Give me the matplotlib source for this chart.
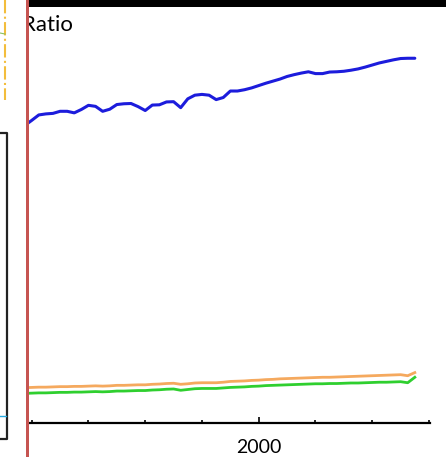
import matplotlib
matplotlib.use('Agg')
import matplotlib.pyplot as plt
from matplotlib.lines import Line2D
from matplotlib.patches import Rectangle
from matplotlib.ticker import MultipleLocator

# quarterly observations
years = [1991.75 + 0.25 * i for i in range(56)]

ratio_total = [
    1.145, 1.165, 1.186, 1.190, 1.192, 1.200, 1.200, 1.194, 1.207, 1.223,
    1.219, 1.200, 1.208, 1.226, 1.229, 1.230, 1.218, 1.203, 1.224, 1.225,
    1.236, 1.237, 1.214, 1.248, 1.262, 1.265, 1.262, 1.245, 1.253, 1.278,
    1.278, 1.283, 1.290, 1.299, 1.308, 1.316, 1.324, 1.334, 1.341, 1.347,
    1.352, 1.345, 1.345, 1.351, 1.352, 1.354, 1.358, 1.363, 1.370, 1.378,
    1.386, 1.392, 1.398, 1.403, 1.404, 1.404,
]
ratio_upper = [
    0.137, 0.138, 0.139, 0.139, 0.140, 0.141, 0.141, 0.142, 0.142, 0.143,
    0.144, 0.143, 0.144, 0.146, 0.146, 0.147, 0.148, 0.148, 0.150, 0.151,
    0.153, 0.154, 0.150, 0.152, 0.155, 0.156, 0.156, 0.156, 0.158, 0.161,
    0.162, 0.163, 0.165, 0.166, 0.168, 0.169, 0.171, 0.172, 0.173, 0.174,
    0.175, 0.176, 0.177, 0.177, 0.178, 0.179, 0.180, 0.181, 0.182, 0.183,
    0.184, 0.185, 0.186, 0.187, 0.183, 0.195,
]
ratio_lower = [
    0.115, 0.116, 0.117, 0.117, 0.118, 0.119, 0.119, 0.120, 0.120, 0.121,
    0.122, 0.121, 0.122, 0.124, 0.124, 0.125, 0.126, 0.126, 0.128, 0.129,
    0.131, 0.132, 0.127, 0.130, 0.133, 0.134, 0.134, 0.134, 0.136, 0.138,
    0.139, 0.140, 0.142, 0.143, 0.145, 0.146, 0.147, 0.148, 0.149, 0.150,
    0.151, 0.152, 0.152, 0.153, 0.153, 0.154, 0.155, 0.155, 0.156, 0.157,
    0.158, 0.158, 0.159, 0.160, 0.156, 0.177,
]

W, H = 446, 457


def fx(px):
    return px / W


def fy(py):
    return 1 - py / H


plt.rcParams['font.family'] = ['Lato', 'DejaVu Sans']
fig = plt.figure(figsize=(W / 100, H / 100), dpi=100)

ax = fig.add_axes([fx(20), fy(423.3), 410 / W, 416 / H])
ax.plot(years, ratio_total, color='#1c1cdc', lw=2.2,
        solid_capstyle='round', solid_joinstyle='round')
ax.plot(years, ratio_upper, color='#f5a95e', lw=2.0, solid_joinstyle='round')
ax.plot(years, ratio_lower, color='#2fcf2f', lw=2.0, solid_joinstyle='round')

ax.set_xlim(1991.588, 2006.035)
ax.set_ylim(0, 1.6)
for side in ['left', 'right', 'top']:
    ax.spines[side].set_visible(False)
ax.spines['bottom'].set_linewidth(1.6)
ax.set_yticks([])
ax.xaxis.set_major_locator(MultipleLocator(10))
ax.xaxis.set_minor_locator(MultipleLocator(2))
ax.tick_params(axis='x', which='major', direction='in', length=4.5, width=1.2,
               labelsize=14, pad=11)
ax.tick_params(axis='x', which='minor', direction='in', length=2.2, width=1.2)

fig.text(fx(73), fy(25), 'Ratio', ha='right', va='center', fontsize=16, zorder=3)

# neighbouring panel on the left
fig.add_artist(Rectangle((0, 0), fx(25.5), 1, transform=fig.transFigure,
                         facecolor='white', edgecolor='none', zorder=4))
fig.add_artist(Line2D([fx(0), fx(6.5), fx(6.5), fx(0)],
                      [fy(133), fy(133), fy(439), fy(439)],
                      transform=fig.transFigure, color='#222222', lw=1.6, zorder=5))
fig.add_artist(Line2D([fx(4.7), fx(4.7)], [fy(0), fy(100)],
                      transform=fig.transFigure, color='#f3bd3c', lw=1.5,
                      ls='-.', zorder=5))
fig.add_artist(Line2D([fx(0), fx(5)], [fy(33), fy(34)],
                      transform=fig.transFigure, color='#8cc060', lw=0.8, zorder=5))
fig.add_artist(Line2D([fx(0), fx(5.5)], [fy(416), fy(416)],
                      transform=fig.transFigure, color='#29abe2', lw=1.0, zorder=5))

# top bar and divider
fig.add_artist(Rectangle((fx(29), fy(7.3)), 1 - fx(29), 7.3 / H,
                         transform=fig.transFigure, facecolor='black',
                         edgecolor='none', zorder=5))
fig.add_artist(Rectangle((fx(25.5), 0), 3.8 / W, 1, transform=fig.transFigure,
                         facecolor='#c65451', edgecolor='none', zorder=6))

fig.savefig('out.png', dpi=100)
